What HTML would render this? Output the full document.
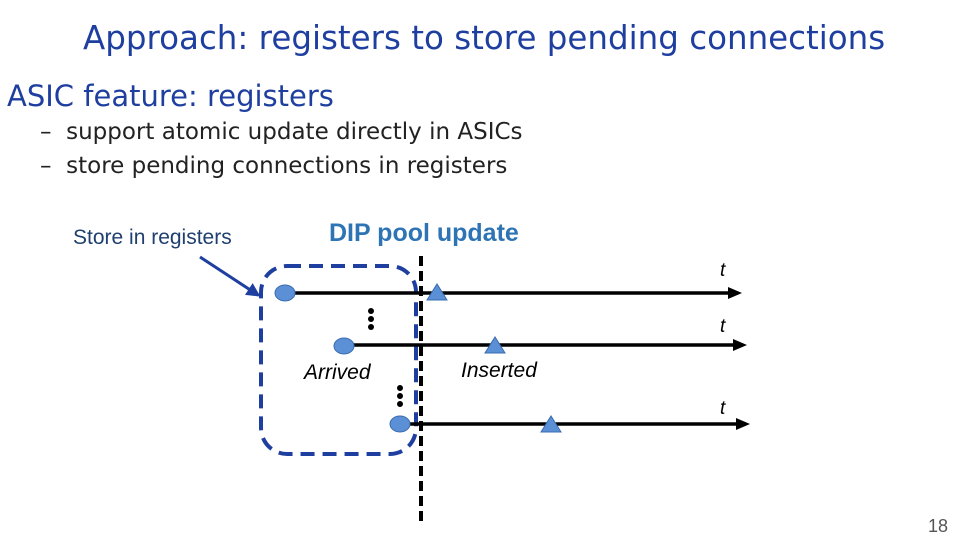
<!DOCTYPE html>
<html><head><style>
body{margin:0;width:960px;height:540px;background:#fff;position:relative;overflow:hidden;font-family:"Liberation Sans","DejaVu Sans",sans-serif}
.t{position:absolute;white-space:nowrap}
</style></head><body>
<div class="t" style="left:83px;top:19px;font-size:32.5px;color:#1f3fa0;font-family:'DejaVu Sans',sans-serif">Approach: registers to store pending connections</div>
<div class="t" style="left:7px;top:79px;font-size:29px;color:#1f3fa0;font-family:'DejaVu Sans',sans-serif">ASIC feature: registers</div>
<div class="t" style="left:40px;top:119px;font-size:23px;color:#222;font-family:'DejaVu Sans',sans-serif">–&nbsp; support atomic update directly in ASICs</div>
<div class="t" style="left:40px;top:153px;font-size:23px;color:#222;font-family:'DejaVu Sans',sans-serif">–&nbsp; store pending connections in registers</div>
<div class="t" style="left:73px;top:226px;font-size:21px;color:#1f3f6f">Store in registers</div>
<div class="t" style="left:329px;top:219px;font-size:25px;font-weight:bold;color:#2e74b5">DIP pool update</div>
<svg width="960" height="540" style="position:absolute;left:0;top:0">
<defs><marker id="a" markerWidth="14" markerHeight="12" refX="10" refY="6" orient="auto" markerUnits="userSpaceOnUse"><path d="M0,0L14,6L0,12z" fill="#000"/></marker>
<marker id="b" markerWidth="14" markerHeight="14" refX="11" refY="7" orient="auto" markerUnits="userSpaceOnUse"><path d="M0,0L14,7L0,14z" fill="#1f3fa0"/></marker></defs>
<rect x="261" y="266" width="155" height="188" rx="26" fill="none" stroke="#1f3fa0" stroke-width="4" stroke-dasharray="14,8"/>
<line x1="421" y1="256" x2="421" y2="525" stroke="#000" stroke-width="4" stroke-dasharray="10,5"/>
<line x1="200" y1="257" x2="258" y2="295" stroke="#1f3fa0" stroke-width="3" marker-end="url(#b)"/>
<line x1="285" y1="293" x2="738" y2="293" stroke="#000" stroke-width="3.5" marker-end="url(#a)"/>
<line x1="344" y1="345" x2="743" y2="345" stroke="#000" stroke-width="3.5" marker-end="url(#a)"/>
<line x1="400" y1="424" x2="746" y2="424" stroke="#000" stroke-width="3.5" marker-end="url(#a)"/>
<g fill="#5b8fd6" stroke="#3a6cb0" stroke-width="1">
<ellipse cx="285" cy="293" rx="10" ry="8"/><ellipse cx="344" cy="346" rx="10" ry="8"/><ellipse cx="400" cy="424" rx="10" ry="8"/>
<path d="M427,300L437,284L447,300z"/><path d="M485,353L495,337L505,353z"/><path d="M541,432L551,416L561,432z"/>
</g>
<g fill="#000"><circle cx="371" cy="311" r="3"/><circle cx="371" cy="319" r="3"/><circle cx="371" cy="327" r="3"/>
<circle cx="400" cy="388" r="3"/><circle cx="400" cy="396" r="3"/><circle cx="400" cy="404" r="3"/></g>
</svg>
<div class="t" style="left:720px;top:260px;font-size:19px;font-style:italic">t</div>
<div class="t" style="left:720px;top:316px;font-size:19px;font-style:italic">t</div>
<div class="t" style="left:720px;top:398px;font-size:19px;font-style:italic">t</div>
<div class="t" style="left:304px;top:361px;font-size:21px;font-style:italic">Arrived</div>
<div class="t" style="left:461px;top:359px;font-size:21px;font-style:italic">Inserted</div>
<div class="t" style="left:928px;top:516px;font-size:18px;color:#555">18</div>
</body></html>
